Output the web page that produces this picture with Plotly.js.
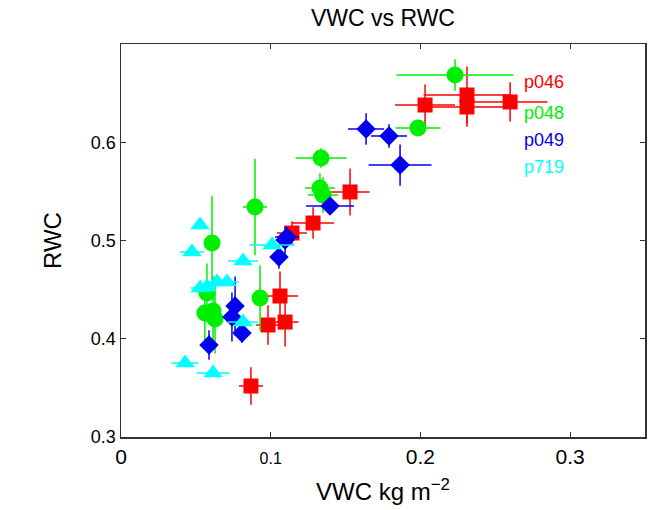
<!DOCTYPE html>
<html>
<head>
<meta charset="utf-8">
<script src="https://cdn.plot.ly/plotly-3.0.1.min.js"></script>
<style>html,body{margin:0;padding:0;background:#fff;}#chart{width:653px;height:510px;}</style>
</head>
<body>
<div id="chart"></div>
<script>
// p046 (red squares)
const p046_x  = [0.0868, 0.1062, 0.0982, 0.1096, 0.1142, 0.1283, 0.1530, 0.2031, 0.2311, 0.2311, 0.2599];
const p046_y  = [0.3519, 0.4435, 0.4140, 0.4170, 0.5076, 0.5178, 0.5494, 0.6379, 0.6481, 0.6359, 0.6410];
const p046_ex = [0.008, 0.012, 0.008, 0.009, 0.010, 0.014, 0.013, 0.020, 0.029, 0.027, 0.025];
const p046_ey = [0.019, 0.025, 0.020, 0.025, 0.012, 0.016, 0.024, 0.021, 0.029, 0.020, 0.020];
// p048 (green circles)
const p048_x  = [0.2231, 0.1984, 0.1336, 0.1329, 0.1349, 0.0895, 0.0608, 0.0574, 0.0560, 0.0615, 0.0628, 0.0929];
const p048_y  = [0.6684, 0.6145, 0.5840, 0.5534, 0.5463, 0.5341, 0.4975, 0.4466, 0.4262, 0.4283, 0.4201, 0.4415];
const p048_ex = [0.039, 0.015, 0.017, 0.010, 0.010, 0.008, 0.005, 0.005, 0.005, 0.005, 0.005, 0.005];
const p048_ey = [0.016, 0.008, 0.010, 0.015, 0.018, 0.049, 0.048, 0.030, 0.030, 0.035, 0.035, 0.033];
// p049 (blue diamonds)
const p049_x  = [0.1637, 0.1790, 0.1864, 0.1396, 0.1109, 0.1096, 0.1055, 0.0762, 0.0741, 0.0808, 0.0588];
const p049_y  = [0.6135, 0.6064, 0.5768, 0.5351, 0.5036, 0.5005, 0.4832, 0.4333, 0.4221, 0.4059, 0.3936];
const p049_ex = [0.012, 0.012, 0.021, 0.016, 0.008, 0.006, 0.004, 0.004, 0.004, 0.004, 0.003];
const p049_ey = [0.016, 0.012, 0.021, 0.008, 0.010, 0.014, 0.012, 0.030, 0.025, 0.010, 0.015];
// p719 (cyan triangles)
const p719_x  = [0.0528, 0.0474, 0.1009, 0.0815, 0.0528, 0.0574, 0.0641, 0.0708, 0.0815, 0.0428, 0.0615];
const p719_y  = [0.5158, 0.4883, 0.4954, 0.4791, 0.4517, 0.4527, 0.4578, 0.4578, 0.4170, 0.3753, 0.3651];
const p719_ex = [0.004, 0.008, 0.015, 0.010, 0.006, 0.006, 0.006, 0.008, 0.010, 0.009, 0.011];
const p719_ey = [0.003, 0.003, 0.003, 0.003, 0.003, 0.003, 0.003, 0.003, 0.003, 0.003, 0.003];

const seriesNames = ['p046', 'p048', 'p049', 'p719'];
const xTickVals = [0, 0.1, 0.2, 0.3];
const xTickText = ['0', '<span style="font-size:16px">0.1</span>', '0.2', '0.3'];
const yTickVals = [0.3, 0.4, 0.5, 0.6];
const yTickText = ['0.3', '0.4', '0.5', '0.6'];

const colors = ['#ff0000', '#00ee00', '#0000ee', '#00ffff'];
const symbols = ['square', 'circle', 'diamond', 'triangle-up'];
const sizes = [15, 17, 15, 17];
const data = [
  [p046_x, p046_y, p046_ex, p046_ey],
  [p048_x, p048_y, p048_ex, p048_ey],
  [p049_x, p049_y, p049_ex, p049_ey],
  [p719_x, p719_y, p719_ex, p719_ey]
];

const traces = data.map((d, i) => ({
  type: 'scatter', mode: 'markers', name: seriesNames[i],
  x: d[0], y: d[1],
  error_x: {type: 'data', array: d[2], visible: true, color: colors[i], thickness: 1.5, width: 0},
  error_y: {type: 'data', array: d[3], visible: true, color: colors[i], thickness: 1.5, width: 0},
  marker: {color: colors[i], symbol: symbols[i], size: sizes[i], line: {width: 0}}
}));

const legendY = [0.6613, 0.6298, 0.6023, 0.5748];
const annotations = seriesNames.map((n, i) => ({
  x: 0.268, y: legendY[i], xref: 'x', yref: 'y', text: n, showarrow: false,
  xanchor: 'left', yanchor: 'middle', font: {family: 'Liberation Sans, Arial', size: 18, color: colors[i]}
}));

const layout = {
  width: 653, height: 510,
  margin: {l: 121, r: 8, t: 44, b: 73},
  paper_bgcolor: '#ffffff', plot_bgcolor: '#ffffff',
  showlegend: false,
  font: {family: 'Liberation Sans, Arial', color: '#000'},
  title: {text: 'VWC vs RWC', x: 0.5865, xanchor: 'center', y: 0.965, yanchor: 'middle', font: {size: 23, color: '#000'}},
  xaxis: {
    range: [0, 0.35], tickvals: xTickVals, ticktext: xTickText,
    ticks: 'inside', ticklen: 5, tickwidth: 1, tickcolor: '#333',
    showline: true, linecolor: '#333', linewidth: 1.5, mirror: 'ticks',
    showgrid: false, zeroline: false, tickfont: {size: 21},
    title: {text: 'VWC kg m<sup>−2</sup>', font: {size: 24}, standoff: 16}
  },
  yaxis: {
    range: [0.3, 0.7], tickvals: yTickVals, ticktext: yTickText,
    ticks: 'inside', ticklen: 5, tickwidth: 1, tickcolor: '#333',
    showline: true, linecolor: '#333', linewidth: 1.5, mirror: 'ticks',
    showgrid: false, zeroline: false, tickfont: {size: 18},
    title: {text: 'RWC', font: {size: 24}, standoff: 22}
  },
  annotations: annotations
};

Plotly.newPlot('chart', traces, layout, {staticPlot: true, displayModeBar: false});
</script>
</body>
</html>
